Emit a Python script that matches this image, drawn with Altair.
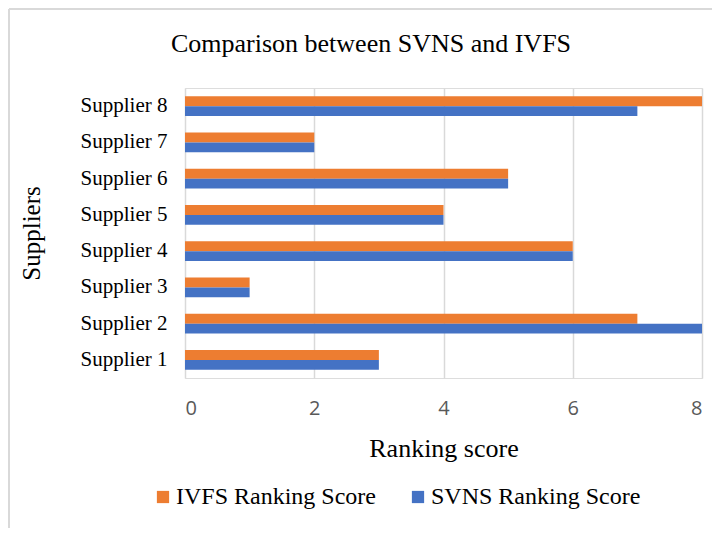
import altair as alt
import pandas as pd

suppliers = ["Supplier 1", "Supplier 2", "Supplier 3", "Supplier 4",
             "Supplier 5", "Supplier 6", "Supplier 7", "Supplier 8"]
svns_scores = [3, 8, 1, 6, 4, 5, 2, 7]
ivfs_scores = [3, 7, 1, 6, 4, 5, 2, 8]
series_names = ["IVFS Ranking Score", "SVNS Ranking Score"]
series_colors = ["#ED7D31", "#4472C4"]
x_ticks = [0, 2, 4, 6, 8]
chart_title = "Comparison between SVNS and IVFS"

rows = []
for s, v in zip(suppliers, ivfs_scores):
    rows.append({"Supplier": s, "Series": series_names[0], "Score": v})
for s, v in zip(suppliers, svns_scores):
    rows.append({"Supplier": s, "Series": series_names[1], "Score": v})
df = pd.DataFrame(rows)

SERIF = "Liberation Serif"
W, H = 517, 290

bars = alt.Chart(df).mark_bar().encode(
    y=alt.Y("Supplier:N", sort=suppliers[::-1],
            scale=alt.Scale(paddingInner=0.46, paddingOuter=0.23),
            axis=alt.Axis(title="Suppliers", labelFont=SERIF, labelFontSize=21,
                          labelColor="black", labelPadding=18, ticks=False,
                          domain=False, grid=False,
                          titleFont=SERIF, titleFontSize=25, titleFontWeight="normal",
                          titleColor="black", titleX=-154, titleY=H / 2,
                          titleAlign="center", titleBaseline="middle", titleAngle=-90)),
    yOffset=alt.YOffset("Series:N", sort=series_names,
                        scale=alt.Scale(paddingInner=0, paddingOuter=0)),
    x=alt.X("Score:Q", scale=alt.Scale(domain=[0, 8], nice=False),
            axis=alt.Axis(values=x_ticks, title="Ranking score", format="d",
                          labelFont="Open Sans", labelFontSize=20, labelColor="#595959",
                          labelPadding=20, ticks=False, domain=False,
                          grid=True, gridColor="#D9D9D9", gridWidth=1.5,
                          titleFont=SERIF, titleFontSize=26, titleFontWeight="normal",
                          titleColor="black", titlePadding=17)),
    color=alt.Color("Series:N",
                    scale=alt.Scale(domain=series_names, range=series_colors),
                    legend=alt.Legend(title=None, orient="none", legendX=-34, legendY=397,
                                      direction="horizontal", columns=2, padding=0,
                                      symbolType="square", symbolSize=150,
                                      symbolStrokeWidth=0, labelOffset=1,
                                      columnPadding=30,
                                      labelFont=SERIF, labelFontSize=24,
                                      labelColor="black", labelLimit=400)),
)

frame_df = pd.DataFrame({"k": [0]})
frame_left = alt.Chart(frame_df).mark_rule(color="#D9D9D9", strokeWidth=2).encode(
    x=alt.value(-176), y=alt.value(-79), y2=alt.value(H + 160))
frame_top = alt.Chart(frame_df).mark_rule(color="#D9D9D9", strokeWidth=2).encode(
    x=alt.value(-176), x2=alt.value(W + 20), y=alt.value(-79))
title_text = alt.Chart(frame_df).mark_text(
    text=chart_title, font=SERIF, fontSize=26, color="black",
    align="center", baseline="alphabetic").encode(
    x=alt.value(186), y=alt.value(-36))

chart = alt.layer(frame_left, frame_top, title_text, bars).properties(
    width=W, height=H,
    padding={"left": 177, "top": 80, "right": 10, "bottom": 150},
    autosize=alt.AutoSizeParams(type="none"),
).configure_view(strokeWidth=0).configure(background="white")

chart.save("out.html", embed_options={"renderer": "svg", "actions": False})
